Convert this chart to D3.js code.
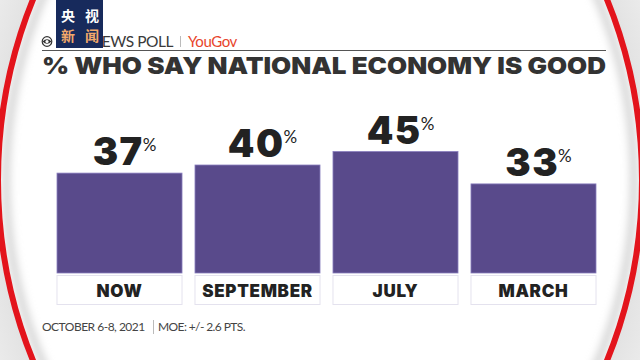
<!DOCTYPE html>
<html><head><meta charset="utf-8">
<script src="https://cdn.jsdelivr.net/npm/d3@7"></script>
<style>body{margin:0;background:#fff}svg{display:block}</style>
</head><body>
<svg id="c" width="640" height="360"></svg>
<script>
const categories = ["NOW", "SEPTEMBER", "JULY", "MARCH"];
const values = [37, 40, 45, 33];
const title = "% WHO SAY NATIONAL ECONOMY IS GOOD";
const footLeft = "OCTOBER 6-8, 2021";
const footRight = "MOE: +/- 2.6 PTS.";

const HEAVY = "Inter, 'Open Sans', sans-serif";
const svg = d3.select("#c");
const W = 640, H = 360;
const defs = svg.append("defs");
const rg = defs.append("radialGradient").attr("id","outer").attr("cx","50%").attr("cy","50%").attr("r","60%");
rg.append("stop").attr("offset","70%").attr("stop-color","#d4d4d4");
rg.append("stop").attr("offset","100%").attr("stop-color","#f4f4f4");
defs.append("filter").attr("id","blur").append("feGaussianBlur").attr("stdDeviation",4);

// background frame (lens)
const cx = 320, cy = 180, rx = 322, ry = 398;
const ell = `M${cx-rx},${cy} a${rx},${ry} 0 1,0 ${2*rx},0 a${rx},${ry} 0 1,0 ${-2*rx},0 Z`;
svg.append("path").attr("d", `M0,0H${W}V${H}H0Z ` + ell).attr("fill-rule","evenodd").attr("fill","url(#outer)");
svg.append("ellipse").attr("cx",cx).attr("cy",cy).attr("rx",rx-8).attr("ry",ry-8)
  .attr("fill","none").attr("stroke","#c8c8c8").attr("stroke-width",6).attr("filter","url(#blur)");
svg.append("ellipse").attr("cx",cx).attr("cy",cy).attr("rx",rx).attr("ry",ry)
  .attr("fill","none").attr("stroke","#e3141c").attr("stroke-width",6);

// header
const hdr = svg.append("g");
hdr.append("circle").attr("cx",47).attr("cy",41.5).attr("r",4.8).attr("fill","none").attr("stroke","#333").attr("stroke-width",1.2);
hdr.append("path").attr("d","M42.5,41.5 Q47,37 51.5,41.5 Q47,46 42.5,41.5Z").attr("fill","#333");
hdr.append("circle").attr("cx",47).attr("cy",41.5).attr("r",1.6).attr("fill","#fff");
hdr.append("text").attr("x",173).attr("y",46.5).attr("text-anchor","end").attr("font-family","Lato, sans-serif").attr("font-size",15.5)
  .attr("fill","#3a3a3a").attr("letter-spacing","-0.45").text("CBS NEWS POLL");
hdr.append("line").attr("x1",180.5).attr("x2",180.5).attr("y1",36).attr("y2",47).attr("stroke","#bbb");
hdr.append("text").attr("x",188).attr("y",46.5).attr("font-family","Lato, sans-serif").attr("font-size",15)
  .attr("fill","#e8452c").attr("letter-spacing","-0.4").text("YouGov");
hdr.append("line").attr("x1",42).attr("x2",606).attr("y1",50.5).attr("y2",50.5).attr("stroke","#555").attr("stroke-width",1.2);

// CCTV logo box (covers part of the header text, as in the broadcast)
svg.append("rect").attr("x",56).attr("y",0).attr("width",47).attr("height",48).attr("fill","#172a5c");
svg.append("text").attr("x",61).attr("y",21).attr("textLength",38).attr("lengthAdjust","spacing")
  .attr("font-family","Noto Sans CJK SC").attr("font-weight",700).attr("font-size",14).attr("fill","#fff").text("央视");
svg.append("text").attr("x",61).attr("y",41).attr("textLength",38).attr("lengthAdjust","spacing")
  .attr("font-family","Noto Sans CJK SC").attr("font-weight",700).attr("font-size",14).attr("fill","#f2a86a").text("新闻");

// title
const t = svg.append("text").attr("x",42).attr("y",74).attr("font-family",HEAVY).attr("font-weight",900)
  .attr("font-size",23).attr("fill","#333").text(title);
t.attr("textLength",564).attr("lengthAdjust","spacingAndGlyphs");

// scales
const x = d3.scaleBand().domain(categories).range([57, 596]).paddingInner(0.094).paddingOuter(0);
const y = d3.scaleLinear().domain([0, 100]).range([273, 3]);

// bars
svg.append("g").selectAll("rect").data(values).join("rect")
  .attr("x",(d,i)=>x(categories[i])).attr("y",d=>y(d))
  .attr("width",x.bandwidth()).attr("height",d=>y(0)-y(d))
  .attr("fill","#594a8b").attr("stroke","#8a7fbf").attr("stroke-width",0.8);

// value labels
const lab = svg.append("g").selectAll("text").data(values).join("text")
  .attr("x",(d,i)=>x(categories[i])+x.bandwidth()/2+5).attr("y",d=>y(d)-8)
  .attr("text-anchor","middle").attr("font-family",HEAVY).attr("font-weight",900).attr("fill","#222");
lab.append("tspan").attr("font-size",38).attr("letter-spacing","1.5").text(d=>d);
lab.append("tspan").attr("font-size",17).attr("font-weight",400).attr("font-family","Lato, sans-serif").attr("dx",-1).attr("dy",-14).text("%");

// category boxes (x axis)
const xAxis = d3.axisBottom(x).tickSize(0).tickPadding(0);
const ax = svg.append("g").attr("transform","translate(0,275)").call(xAxis);
ax.select(".domain").remove();
ax.selectAll(".tick").insert("rect","text").attr("x",-x.bandwidth()/2).attr("y",0.5).attr("width",x.bandwidth()).attr("height",29)
  .attr("fill","#fff").attr("stroke","#e4e2ee").attr("stroke-width",1);
ax.selectAll(".tick text").attr("y",22).attr("dy",0).attr("font-family",HEAVY).attr("font-weight",900)
  .attr("font-size",17).attr("fill","#222").attr("letter-spacing","0.7");

// footnote
svg.append("text").attr("x",42).attr("y",331).attr("font-family","Lato, sans-serif").attr("font-size",12)
  .attr("fill","#444").attr("letter-spacing","-0.5").text(footLeft);
svg.append("line").attr("x1",153.5).attr("x2",153.5).attr("y1",320).attr("y2",334).attr("stroke","#bbb");
svg.append("text").attr("x",158).attr("y",331).attr("font-family","Lato, sans-serif").attr("font-size",12)
  .attr("fill","#444").attr("letter-spacing","-0.6").text(footRight);
</script>
</body></html>
